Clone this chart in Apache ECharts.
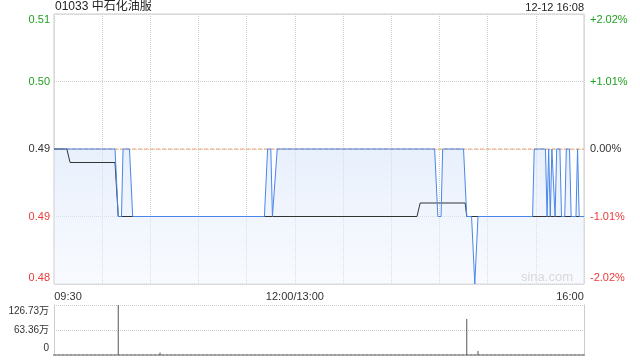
<!DOCTYPE html>
<html>
<head>
<meta charset="utf-8">
<script src="https://cdn.jsdelivr.net/npm/echarts@6/dist/echarts.min.js"></script>
<style>
html,body{margin:0;padding:0;background:#fff;}
#c{width:640px;height:360px;}
</style>
</head>
<body>
<div id="c"></div>
<script>
// minutes since 09:30 (0..330 trading minutes, lunch break removed)
const priceTimes  = [0, 38, 40, 42, 43, 47, 49, 131, 133, 135, 136, 137, 139, 237, 239, 241, 242, 255, 257, 260, 262, 263, 264, 298, 299, 306, 307, 308, 309, 310, 311, 312, 313, 315, 316, 318, 319, 321, 322, 325, 326, 327, 330];
const priceValues = [0.495, 0.495, 0.49, 0.49, 0.495, 0.495, 0.49, 0.49, 0.495, 0.495, 0.49, 0.49, 0.495, 0.495, 0.49, 0.49, 0.495, 0.495, 0.49, 0.49, 0.485, 0.485, 0.49, 0.49, 0.495, 0.495, 0.49, 0.495, 0.49, 0.495, 0.495, 0.49, 0.495, 0.495, 0.49, 0.49, 0.495, 0.495, 0.49, 0.49, 0.495, 0.49, 0.49];
const avgTimes  = [0, 8, 10, 38, 40, 226, 228, 256, 257, 330];
const avgValues = [0.495, 0.495, 0.494, 0.494, 0.49, 0.49, 0.491, 0.491, 0.49, 0.49];
const volTimes  = [40, 66, 257, 264];
const volValues = [1267300, 65000, 912000, 100000];

const prevClose = 0.495;
const sessionBounds = [0, 330];
const priceLeftLabels  = ['0.48', '0.49', '0.49', '0.50', '0.51'];
const priceRightLabels = ['-2.02%', '-1.01%', '0.00%', '+1.01%', '+2.02%'];
const xTickValues = [0, 150, 330];
const xTickLabels = ['09:30', '12:00/13:00', '16:00'];
const volLabels = ['0', '63.36万', '126.73万'];

const GREEN = '#21a121', RED = '#ee3a3a', DARK = '#333';
const FONT = 'Arial, "Liberation Sans", "Noto Sans CJK SC", sans-serif';
const styleKeys = ['rb', 'r', 'k', 'g', 'gt'];
const priceRich = {
  gt: {color: GREEN, padding: [12, 0, 0, 0], fontSize: 11, fontFamily: FONT},
  g:  {color: GREEN, fontSize: 11, fontFamily: FONT},
  k:  {color: DARK, fontSize: 11, fontFamily: FONT},
  r:  {color: RED, fontSize: 11, fontFamily: FONT},
  rb: {color: RED, padding: [0, 0, 13, 0], fontSize: 11, fontFamily: FONT}
};

const pricePts = priceTimes.map((t, i) => [t, priceValues[i]]);
const avgPts = avgTimes.map((t, i) => [t, avgValues[i]]);
const volPts = volTimes.map((t, i) => [t, volValues[i]]);
const prevPts = sessionBounds.map(t => [t, prevClose]);

const chart = echarts.init(document.getElementById('c'), null, {renderer: 'canvas'});
chart.setOption({
  animation: false,
  backgroundColor: '#fff',
  textStyle: {fontFamily: FONT},
  title: [
    {text: '01033 中石化油服', left: 55, top: 1, padding: 0,
     textStyle: {fontSize: 12, fontWeight: 'normal', color: '#222', fontFamily: FONT}},
    {text: '12-12 16:08', right: 56, top: 2, padding: 0,
     textStyle: {fontSize: 11, fontWeight: 'normal', color: '#222', fontFamily: FONT}},
    {text: 'sina.com', right: 67, top: 271, padding: 0,
     textStyle: {fontSize: 13, fontWeight: 'normal', color: '#d8d8d8', fontFamily: FONT}}
  ],
  grid: [
    {left: 54, right: 56, top: 14, height: 270, show: true, borderColor: '#cccccc', borderWidth: 1},
    {left: 54, right: 56, top: 305, height: 50}
  ],
  xAxis: [
    {type: 'value', gridIndex: 0, min: 0, max: 330, interval: 30,
     axisLine: {show: false}, axisTick: {show: false},
     splitLine: {show: true, lineStyle: {color: '#d0d0d0', type: 'dotted'}},
     axisLabel: {
       margin: 7, fontSize: 11, color: DARK, fontFamily: FONT,
       showMinLabel: true, showMaxLabel: true,
       formatter: function (v) {
         const i = xTickValues.indexOf(v);
         if (i < 0) return '';
         if (i === 0) return '{l|' + xTickLabels[i] + '}';
         if (i === xTickLabels.length - 1) return '{rr|' + xTickLabels[i] + '}';
         return xTickLabels[i];
       },
       rich: {
         l: {padding: [0, 0, 0, 28], fontSize: 11, color: DARK, fontFamily: FONT},
         rr: {padding: [0, 28, 0, 0], fontSize: 11, color: DARK, fontFamily: FONT}
       }
     }},
    {type: 'value', gridIndex: 1, min: 0, max: 330, interval: 30,
     axisLine: {show: true, lineStyle: {color: '#999', type: 'dotted', width: 2}},
     axisTick: {show: false}, axisLabel: {show: false}, splitLine: {show: false}}
  ],
  yAxis: [
    {type: 'value', gridIndex: 0, min: 0.485, max: 0.505, interval: 0.005,
     axisLine: {show: false}, axisTick: {show: false},
     splitLine: {show: true, lineStyle: {color: '#d0d0d0', type: 'dotted'}},
     axisLabel: {margin: 4, rich: priceRich,
       formatter: (v, i) => '{' + styleKeys[i] + '|' + priceLeftLabels[i] + '}'}},
    {type: 'value', gridIndex: 0, position: 'right', min: 0.485, max: 0.505, interval: 0.005,
     axisLine: {show: false}, axisTick: {show: false}, splitLine: {show: false},
     axisLabel: {margin: 6, rich: priceRich,
       formatter: (v, i) => '{' + styleKeys[i] + '|' + priceRightLabels[i] + '}'}},
    {type: 'value', gridIndex: 1, min: 0, max: 1267300, interval: 633650,
     axisLine: {show: true, lineStyle: {color: '#cccccc'}}, axisTick: {show: false},
     splitLine: {show: true, lineStyle: {color: '#c8c8c8', type: 'dotted'}},
     axisLabel: {margin: 5, fontSize: 10, color: DARK,
       formatter: (v, i) => {
         if (i === 0) return '{b|' + volLabels[i] + '}';
         if (i === volLabels.length - 1) return '{t|' + volLabels[i] + '}';
         return volLabels[i];
       },
       rich: {
         t: {padding: [12, 0, 0, 0], fontSize: 10, color: DARK, fontFamily: FONT},
         b: {padding: [0, 0, 13, 0], fontSize: 10, color: DARK, fontFamily: FONT}
       }}},
    {type: 'value', gridIndex: 1, position: 'right', min: 0, max: 1267300, interval: 633650,
     axisLine: {show: true, lineStyle: {color: '#cccccc'}}, axisTick: {show: false},
     axisLabel: {show: false}, splitLine: {show: false}}
  ],
  series: [
    {type: 'line', name: 'priceArea', xAxisIndex: 0, yAxisIndex: 0, data: pricePts,
     symbol: 'none', z: 2, lineStyle: {width: 0, opacity: 0},
     areaStyle: {origin: 'start',
       color: new echarts.graphic.LinearGradient(0, 0, 0, 1, [
         {offset: 0, color: 'rgba(214,228,250,0.8)'},
         {offset: 1, color: 'rgba(238,243,253,0.6)'}
       ])}},
    {type: 'line', name: 'prevClose', xAxisIndex: 0, yAxisIndex: 0, data: prevPts,
     symbol: 'none', z: 3, silent: true,
     lineStyle: {color: '#f2a46a', type: 'dashed', width: 1}},
    {type: 'line', name: 'avg', xAxisIndex: 0, yAxisIndex: 0, data: avgPts,
     symbol: 'none', z: 4,
     lineStyle: {color: '#333', width: 1}},
    {type: 'line', name: 'price', xAxisIndex: 0, yAxisIndex: 0, data: pricePts,
     symbol: 'none', z: 5,
     lineStyle: {color: '#4a86e8', width: 1}},
    {type: 'bar', name: 'vol', xAxisIndex: 1, yAxisIndex: 2, data: volPts,
     barWidth: 1, itemStyle: {color: '#555'}}
  ]
});
</script>
</body>
</html>
